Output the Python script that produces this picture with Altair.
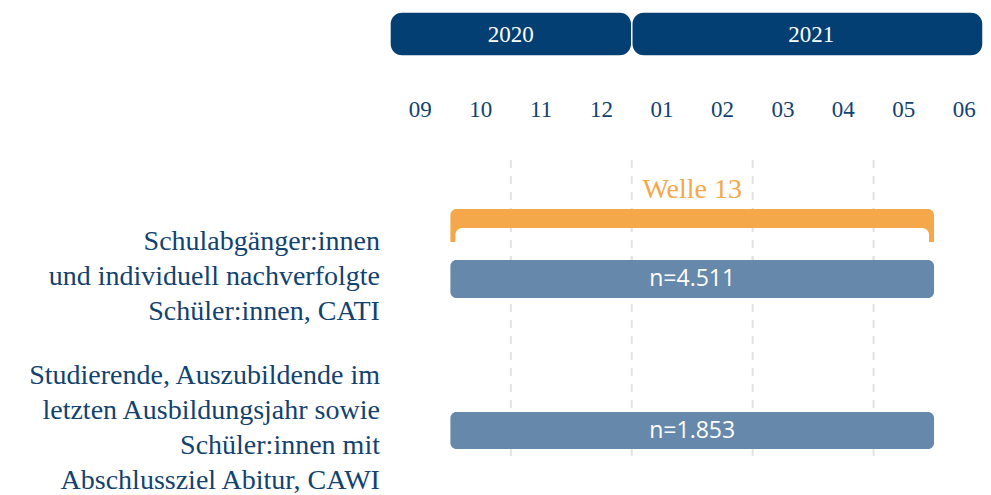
import altair as alt
import pandas as pd

# ---------------- data ----------------
years = ["2020", "2021"]
year_start = [0, 4]          # month index, 0 = September 2020
year_end = [4, 10]

month_labels = ["09", "10", "11", "12", "01", "02", "03", "04", "05", "06"]
grid_months = [2, 4, 6, 8]

wave_label = ["Welle 13"]
wave_start = [1]
wave_end = [9]

groups = [
    "Schulabgänger:innen\nund individuell nachverfolgte\nSchüler:innen, CATI",
    "Studierende, Auszubildende im\nletzten Ausbildungsjahr sowie\nSchüler:innen mit\nAbschlussziel Abitur, CAWI",
]
sample_sizes = ["n=4.511", "n=1.853"]
field_start = [1, 1]
field_end = [9, 9]

# ---------------- styling / layout ----------------
NAVY = "#033f72"
TEXT = "#12426f"
BAR = "#6689ab"
ORANGE = "#f5a849"
GRID = "#e2e2e2"
SERIF = "Liberation Serif"
SANS = "Open Sans"

W, H = 975, 487
X_MAX = 9.81
xs = alt.Scale(domain=[-6.318, X_MAX], clamp=True)
ys = alt.Scale(domain=[0, H], reverse=True)

# vertical lanes (top = 0)
HEADER = (4, 48)
MONTH_Y = 102
GRID_SPAN = (152, 449)
WAVE_Y = 190
BRACKET = (201, 220, 234)
ROWS = [(252, 290), (404, 441)]
LABEL_BASE = [242, 376]
LABEL_LH = [35, 35]

df_year = pd.DataFrame({"year": years, "start": year_start, "end": year_end})
df_month = pd.DataFrame({"label": month_labels, "m": list(range(len(month_labels)))})
df_grid = pd.DataFrame({"g": grid_months})
df_wave = pd.DataFrame({"label": wave_label, "start": wave_start, "end": wave_end})
df_rows = pd.DataFrame({"group": groups, "n": sample_sizes,
                        "start": field_start, "end": field_end})


def X(f):
    return alt.X(f, type="quantitative", scale=xs, axis=None)


def Y(f):
    return alt.Y(f, type="quantitative", scale=ys, axis=None)


def lanes(chart, **kw):
    return chart.transform_calculate(**{k: str(v) for k, v in kw.items()})


year_bars = lanes(alt.Chart(df_year), y0=HEADER[0], y1=HEADER[1]).mark_rect(
    color=NAVY, cornerRadius=12, stroke="white", strokeWidth=1.5
).encode(x=X("start"), x2="end", y=Y("y0"), y2="y1")

year_text = lanes(alt.Chart(df_year), yc=(HEADER[0] + HEADER[1]) / 2 + 1).transform_calculate(
    mid=f"(datum.start + min(datum.end, 9.94)) / 2"
).mark_text(color="white", font=SERIF, fontSize=23, baseline="middle").encode(
    x=X("mid"), y=Y("yc"), text="year"
)

month_text = lanes(alt.Chart(df_month), yc=MONTH_Y).transform_calculate(
    mc="datum.m + 0.5"
).mark_text(color=TEXT, font=SERIF, fontSize=23, baseline="middle").encode(
    x=X("mc"), y=Y("yc"), text="label"
)

grid = lanes(alt.Chart(df_grid), y0=GRID_SPAN[0], y1=GRID_SPAN[1]).mark_rule(
    color=GRID, strokeWidth=2, strokeDash=[8, 8]
).encode(x=X("g"), y=Y("y0"), y2="y1")

bracket = lanes(alt.Chart(df_wave), y0=BRACKET[0], y1=BRACKET[2]).mark_rect(
    color=ORANGE, cornerRadiusTopLeft=6, cornerRadiusTopRight=6
).encode(x=X("start"), x2="end", y=Y("y0"), y2="y1")

carve = lanes(alt.Chart(df_wave), y0=BRACKET[1], y1=ROWS[0][0] - 10).mark_rect(
    color="white", xOffset=5, x2Offset=-5,
    cornerRadiusTopLeft=7, cornerRadiusTopRight=7
).encode(x=X("start"), x2="end", y=Y("y0"), y2="y1")

grid_fix = lanes(alt.Chart(df_grid), y0=BRACKET[1], y1=ROWS[0][0]).mark_rule(
    color=GRID, strokeWidth=2, strokeDash=[8, 8], strokeDashOffset=4
).encode(x=X("g"), y=Y("y0"), y2="y1")

wave_text = lanes(alt.Chart(df_wave), yc=WAVE_Y).transform_calculate(
    mid="(datum.start + datum.end) / 2"
).mark_text(color=ORANGE, font=SERIF, fontSize=28, baseline="alphabetic").encode(
    x=X("mid"), y=Y("yc"), text="label"
)

layers = [year_bars, year_text, month_text, grid, bracket, carve, grid_fix, wave_text]

for i, (top, bot) in enumerate(ROWS):
    row = df_rows.iloc[[i]].reset_index(drop=True)
    bar = lanes(alt.Chart(row), y0=top, y1=bot).mark_rect(color=BAR, cornerRadius=6).encode(
        x=X("start"), x2="end", y=Y("y0"), y2="y1"
    )
    ntext = lanes(alt.Chart(row), yc=(top + bot) / 2).transform_calculate(
        mid="(datum.start + datum.end) / 2"
    ).mark_text(color="white", font=SANS, fontSize=23, baseline="middle").encode(
        x=X("mid"), y=Y("yc"), text="n"
    )
    label = lanes(alt.Chart(row), yb=LABEL_BASE[i], x0=0).mark_text(
        color=TEXT, font=SERIF, fontSize=28, align="right", baseline="alphabetic",
        lineBreak="\n", lineHeight=LABEL_LH[i], dx=-10
    ).encode(x=X("x0"), y=Y("yb"), text="group")
    layers += [bar, ntext, label]

chart = alt.layer(*layers).properties(
    width=W, height=H, padding=0, autosize="none"
).configure_view(stroke=None)

chart.save("out.html", embed_options={"renderer": "svg", "actions": False})
